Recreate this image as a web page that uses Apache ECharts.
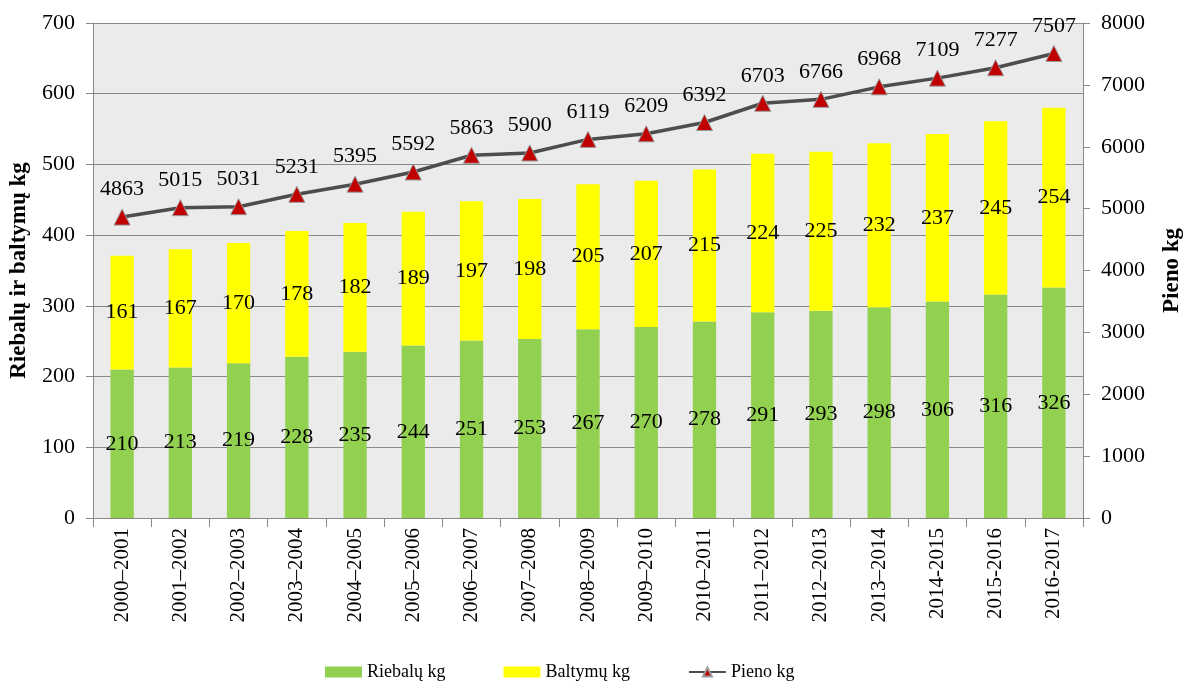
<!DOCTYPE html>
<html>
<head>
<meta charset="utf-8">
<script src="https://cdn.jsdelivr.net/npm/echarts@6/dist/echarts.min.js"></script>
<style>
  html, body { margin: 0; padding: 0; background: #fff; }
  #chartmain { width: 1186px; height: 682px; }
</style>
</head>
<body>
<div id="chartmain"></div>
<script>
// duomenys
var years = ['2000–2001', '2001–2002', '2002–2003', '2003–2004', '2004–2005', '2005–2006',
  '2006–2007', '2007–2008', '2008–2009', '2009–2010', '2010–2011', '2011–2012',
  '2012–2013', '2013–2014', '2014-2015', '2015-2016', '2016-2017'];
var riebalai = [210, 213, 219, 228, 235, 244, 251, 253, 267, 270, 278, 291, 293, 298, 306, 316, 326];
var baltymai = [161, 167, 170, 178, 182, 189, 197, 198, 205, 207, 215, 224, 225, 232, 237, 245, 254];
var pienas = [4863, 5015, 5031, 5231, 5395, 5592, 5863, 5900, 6119, 6209, 6392, 6703, 6766, 6968, 7109, 7277, 7507];

var serif = 'Liberation Serif';
var txt = { fontFamily: serif, fontSize: 22, color: '#000' };

var option = {
  animation: false,
  textStyle: { fontFamily: serif },
  grid: {
    left: 93, right: 103, top: 23, bottom: 164,
    outerBoundsMode: 'none', containLabel: false,
    backgroundColor: '#EBEBEB', show: true, borderWidth: 0
  },
  legend: {
    top: 658,
    left: 320,
    itemWidth: 37,
    itemHeight: 11,
    itemGap: 58,
    textStyle: { fontFamily: serif, fontSize: 18, color: '#000' },
    data: [{ name: 'Riebalų kg', icon: 'rect' }, { name: 'Baltymų kg', icon: 'rect' }, 'Pieno kg']
  },
  xAxis: {
    type: 'category',
    data: years,
    axisLine: { lineStyle: { color: '#888' } },
    axisTick: { show: true, length: 9, lineStyle: { color: '#888' } },
    axisLabel: { rotate: 90, fontFamily: serif, fontSize: 21, color: '#000', margin: 10 }
  },
  yAxis: [{
    type: 'value',
    min: 0, max: 700, interval: 100,
    name: 'Riebalų ir baltymų kg',
    nameLocation: 'middle',
    nameRotate: 90,
    nameGap: 62,
    nameTextStyle: { fontFamily: serif, fontSize: 23, fontWeight: 'bold', color: '#000' },
    axisLine: { show: true, lineStyle: { color: '#888' } },
    axisTick: { show: true, length: 7, lineStyle: { color: '#888' } },
    axisLabel: { fontFamily: serif, fontSize: 22, color: '#000', margin: 18 },
    splitLine: { lineStyle: { color: '#888', width: 1 } }
  }, {
    type: 'value',
    min: 0, max: 8000, interval: 1000,
    name: 'Pieno kg',
    nameLocation: 'middle',
    nameRotate: 90,
    nameGap: 78,
    nameTextStyle: { fontFamily: serif, fontSize: 23, fontWeight: 'bold', color: '#000' },
    axisLine: { show: true, lineStyle: { color: '#888' } },
    axisTick: { show: true, length: 7, lineStyle: { color: '#888' } },
    axisLabel: { fontFamily: serif, fontSize: 22, color: '#000', margin: 18, formatter: function (v) { return String(v); } },
    splitLine: { show: false }
  }],
  series: [{
    name: 'Riebalų kg',
    type: 'bar',
    stack: 'sum',
    barWidth: '40%',
    itemStyle: { color: '#92D050' },
    label: Object.assign({ show: true, position: 'inside' }, txt),
    data: riebalai
  }, {
    name: 'Baltymų kg',
    type: 'bar',
    stack: 'sum',
    itemStyle: { color: '#FFFF00' },
    label: Object.assign({ show: true, position: 'inside' }, txt),
    data: baltymai
  }, {
    name: 'Pieno kg',
    type: 'line',
    yAxisIndex: 1,
    symbol: 'triangle',
    symbolSize: 16,
    lineStyle: { color: '#4D4D4D', width: 3.5 },
    itemStyle: { color: '#C00000', borderColor: '#999', borderWidth: 1 },
    label: Object.assign({ show: true, position: 'top', distance: 8 }, txt),
    data: pienas
  }]
};

var myChart = echarts.init(document.getElementById('chartmain'));
myChart.setOption(option);
</script>
</body>
</html>
